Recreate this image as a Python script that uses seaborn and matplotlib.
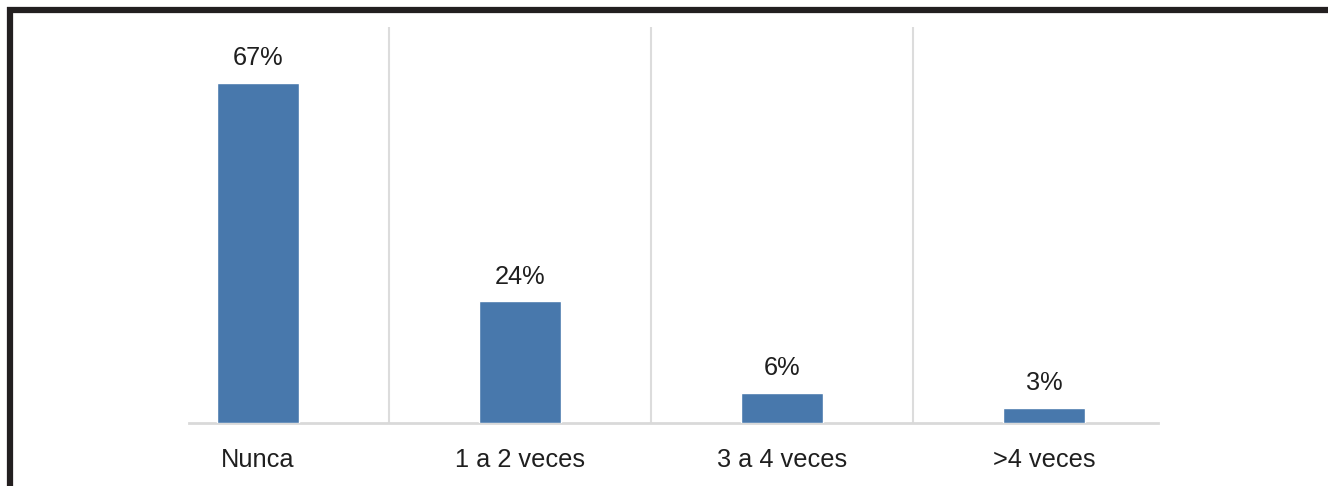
import matplotlib
matplotlib.use("Agg")
import matplotlib.pyplot as plt
from matplotlib.lines import Line2D
import seaborn as sns
import pandas as pd

categories = ["Nunca", "1 a 2 veces", "3 a 4 veces", ">4 veces"]
values = [67, 24, 6, 3]
value_labels = ["67%", "24%", "6%", "3%"]

sns.set_theme(style="white")
plt.rcParams['font.family'] = ['Liberation Sans', 'DejaVu Sans']

W, H = 1328, 486
fig = plt.figure(figsize=(W / 100, H / 100), dpi=100)
ax = fig.add_axes([189 / W, (H - 423) / H, (1158 - 189) / W, (423 - 27) / H])

df = pd.DataFrame({"cat": categories, "val": values})
sns.barplot(data=df, x="cat", y="val", color="#4878AC", saturation=1,
            width=0.313, ax=ax, zorder=3)

ax.set_xlim(-0.263, 3.435)
ax.set_ylim(0, 78)

for i, (v, lab) in enumerate(zip(values, value_labels)):
    ax.annotate(lab, (i, v), xytext=(0, 9), textcoords="offset points",
                ha="center", va="bottom", fontsize=18.3, color="#1f1f1f")

ax.set_xticks(range(len(categories)))
ax.set_xticklabels(categories, fontsize=18.3, color="#1f1f1f")
ax.set_xticks([0.5, 1.5, 2.5], minor=True)
ax.tick_params(axis="x", which="major", length=0, pad=18)
ax.tick_params(axis="x", which="minor", length=0)
ax.grid(axis="x", which="minor", color="#dcdcdc", linewidth=1.5, zorder=0)
ax.set_yticks([])
ax.set_xlabel("")
ax.set_ylabel("")
for s in ["top", "right", "left"]:
    ax.spines[s].set_visible(False)
ax.spines["bottom"].set_color("#d9d9d9")
ax.spines["bottom"].set_linewidth(2)

# dark frame lines (top and left)
fig.add_artist(Line2D([7 / W, 1], [1 - 10 / H, 1 - 10 / H], color="#231f20",
                      linewidth=4.5, solid_capstyle="butt",
                      transform=fig.transFigure))
fig.add_artist(Line2D([10 / W, 10 / W], [0, 1 - 7 / H], color="#231f20",
                      linewidth=4.5, solid_capstyle="butt",
                      transform=fig.transFigure))

fig.savefig("out.png", dpi=100, facecolor="white")
